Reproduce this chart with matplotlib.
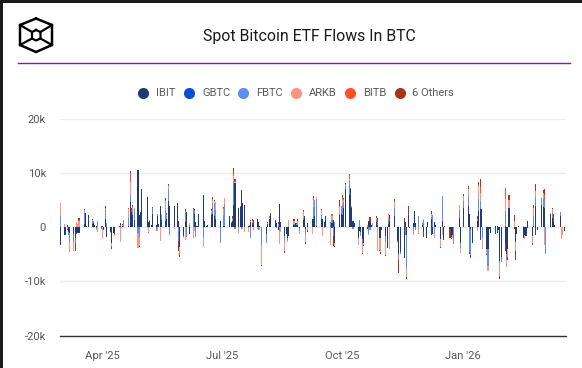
import matplotlib
matplotlib.use("Agg")
import matplotlib.pyplot as plt
import numpy as np
import pandas as pd

plt.rcParams["font.family"] = ["Roboto", "DejaVu Sans"]

# ---------------- DATA (thousand BTC, one row per week) ---------------- #
dates = pd.bdate_range("2025-02-28", "2026-03-19")

ibit = [-3.2,
    -1.4,-1.4,.4,-.9,-1.0, -1.3,-2.0,-1.0,-.9,-1.1, 0,.6,2.6,.3,2.2, .6,.8,.5,.3,0, .2,.3,-.5,1.6,-1.7,
    -.8,-3,-1,-1.3,0, .2,.3,.3,0,0, .3,4.6,2.8,2.3,1.4, 10.5,2.2,2.8,7,0, 5.5,1,1.2,.5,2.5,
    .4,2,.6,3.8,1.3, 1.2,1.5,4.9,4,0, 4,0,4.5,1.2,-3.6, -1.7,1,2.8,0,-1.2, 0,2.5,.9,.3,2.5,
    0,5.9,1.2,.3,.5, 2.3,2.5,2,1.5,0, 1.1,0,.3,.3,0, 2.1,.8,1.1,4.1,8.1, 3.5,3.8,6.7,4.4,4.1,
    .3,.2,1,.8,.4, 1.3,1,.3,0,0, -1.3,.6,1.5,2.2,0, 1.4,.7,-.5,4.3,.9, -1.7,-1.3,-1.9,-1.7,0,
    .4,.7,.5,.4,-.1, 1.4,2,-.3,.7,0, 1.5,1.5,2,.3,0, 1.5,1.5,1,2,0, .1,.7,1.3,-3,0,
    2.2,2.4,2.3,3.5,7.1, 5.9,7.1,3.5,1.2,.8, -2,-.7,-.9,-2.1,-3, -.3,1.1,.9,.5,0, .9,.5,-2,-2,-.5,
    -1.7,-3.9,.6,1.1,0, 2,0,-2.6,-5,-4.5, -5.7,1,-1.4,2.2,-.2, .7,3,.8,0,0, .4,-.8,0,-2,.9,
    1.6,-1.3,1,.5,0, -2.1,1.2,-2.2,.3,0, -.3,-1.8,-1.5,0,0, 1.7,-3,0,3.5,0, 4,2.4,-.4,-3,0,
    1.1,3,3.3,3.3,0, -4,-4.1,-.3,-1.1,0, .2,.2,-.5,-6.3,-5.5, -3,-5,-4,3.5,0, -.3,-2.8,-1.2,.3,0,
    -2,-1.5,-1.7,1.2,0, -1.7,.3,4,0,-.5, 4.2,3.7,3.5,0,0, 2.5,1.7,.9,.5,0, 2,0,0,-.7]

gbtc = [0,
    0,0,0,0,0, 0,0,0,0,0, 0,0,0,0,0, 0,0,0,0,0, 0,0,0,0,0,
    0,0,0,0,0, 0,0,0,0,0, 0,0,0,0,0, 0,0,0,0,0, 0,0,0,0,0,
    0,0,0,0,0, 0,0,0,0,0, 0,0,0,0,0, 0,0,0,0,0, 0,0,0,0,0,
    0,0,0,0,0, 0,0,0,0,0, 0,0,0,0,0, 0,0,0,0,0, 0,0,0,0,0,
    0,0,0,0,0, 0,0,0,0,0, 0,0,0,0,0, 0,0,0,0,0, 0,0,0,0,0,
    0,0,0,0,0, 0,0,0,0,0, 0,0,0,0,0, 0,0,0,0,0, 0,0,0,0,0,
    0,0,0,0,0, 0,0,0,0,0, 0,0,0,0,0, 0,0,0,0,0, 0,0,0,0,0,
    0,0,0,0,0, 0,0,0,0,0, 0,0,0,0,0, 0,0,0,0,0, 0,0,0,0,0,
    -1.5,0,0,0,0, 0,0,0,0,0, 0,0,0,0,0, 0,0,0,0,0, 0,0,0,0,0,
    0,0,-2.4,0,0, 0,0,0,0,0, -1.3,-1,0,0,0, 0,0,0,0,0, 0,0,0,0,0,
    0,0,0,-.2,0, 0,0,-1.5,0,0, 0,0,0,0,0, 0,0,0,0,0, 0,0,0,0]

fbtc = [2.1,
    0,0,0,-.5,-1.7, -1.6,0,0,0,0, 0,2,0,0,0, .5,.3,0,-.4,1.2, -.4,0,0,1.5,.8,
    0,0,0,0,0, 0,0,0,1.3,0, 1.5,1.4,0,.8,1.9, -1,-1.8,0,0,0, 0,0,0,0,1,
    -.7,.4,0,0,1.0, 1.9,.5,2.2,-1.5,0, 0,0,0,-2.5,0, 0,1.8,-1.8,0,.5, 3.2,.5,-1.8,0,0,
    0,-2,0,0,0, .3,2,2.5,1.6,0, -2.9,0,1.9,4,0, 0,.2,0,4.4,-.3, 0,0,-.4,0,0,
    0,0,-1.9,0,0, 0,-.5,0,-3.4,0, -1.6,0,0,0,0, 0,-.2,.4,-.7,0, -.7,0,-.4,0,0,
    .2,0,0,.2,-.6, .4,0,-1,0,0, 0,2.2,3,5,0, .7,0,-.2,0,0, .8,.7,-1.7,.9,0,
    .3,1,1.9,1.2,.5, 2.8,0,.3,-.3,0, 0,1.3,-.7,-1,0, 0,-1.2,-.5,0,0, .4,.5,0,0,0,
    -1,0,.7,.3,0, 1.6,0,0,-.7,-.5, 0,-1.4,-6.3,0,0, -.7,0,-.5,0,2, .4,1.2,0,0,0,
    .3,2.3,-1.2,0,0, 0,4.6,0,0,0, 0,0,0,-3.1,0, 1.5,-.9,0,1.3,0, 1.7,-4.6,-4.5,0,0,
    .4,2.3,1.6,0,-2, 0,-3,0,0,0, 0,0,0,-.3,-1, 3,-1,0,0,0, 0,0,0,0,0,
    0,0,0,0,0, 0,1.8,1.5,0,0, 1.2,1.6,1.5,-5,0, 0,.9,0,0,0, .8,0,0,0]

arkb = [2.4,
    .6,0,-.3,0,-1.7, -1.5,0,.9,.6,1.1, 0,.5,0,0,0, .3,-.2,0,-.1,-.9, 0,-2.1,0,.3,0,
    -.3,-.4,0,-.3,.1, 0,-2.7,.2,0,0, 1.5,2.3,0,.5,.2, -2.9,-1.6,0,0,0, -.2,-.9,.2,0,.1,
    0,-.7,0,-2.5,.2, 1.8,.3,.5,0,0, -.3,0,0,0,-1.2, -.3,-2.3,0,0,.3, -2,-.7,0,0,0,
    0,-1.6,0,0,0, .4,.5,.4,1.5,0, 0,0,1.1,1.1,0, 0,0,.4,1,.3, -1.1,0,0,-.3,-.9,
    -.9,.2,.2,.4,-.6, -.4,0,-.5,-3.5,0, 0,.1,.3,0,0, 0,0,.2,-2.4,-.9, -2,0,-.4,1.3,0,
    .6,0,.1,.5,-.6, 1,0,-1.5,-.5,0, -1.2,1.4,0,.3,0, 1,-1.7,0,0,0, -3.2,.6,0,-.5,0,
    1.3,.4,1,.4,.2, .2,0,.1,0,0, -1.2,.1,0,-1.7,-.3, .5,-.2,0,0,.7, .4,-4.3,-2.2,-2.6,0,
    -2.4,0,.9,-4,0, 1.1,0,-.3,0,0, 0,0,-1.5,0,0, -.8,0,0,0,-1.2, 0,.3,0,0,0,
    .5,0,-.8,0,0, -1.5,-1.4,0,0,0, 0,-.2,-.4,0,0, .9,-.9,0,1,0, 1.3,0,-.3,0,0,
    -.7,2.5,1.4,0,-2, -1,-.9,0,0,0, 0,0,0,-2.4,0, 2.2,-1.3,-1.5,1.6,0, 1.2,-1.5,0,0,0,
    .3,-.6,0,0,0, -1.2,1.5,1.2,0,0, 0,1,-3.2,0,0, .2,.7,0,0,0, 0,-2.1,-1.4,0]

bitb = [0,
    0,0,0,0,-.1, 0,-1.0,0,0,.2, 0,0,0,0,0, 0,0,0,0,0, 0,0,0,.2,0,
    0,-.2,0,0,0, 0,.2,0,0,0, .2,1.7,.4,.3,.1, 0,0,0,0,0, 0,-.1,0,0,0,
    0,0,0,0,0, .2,.2,.2,0,0, 0,0,0,0,-.4, 0,.2,0,0,0, .2,.2,0,0,0,
    0,0,0,0,0, .2,.3,0,0,0, 0,0,.2,0,0, 0,0,.2,.6,.2, 0,.1,0,0,0,
    0,0,0,.1,0, 0,0,0,0,0, 0,0,.3,0,0, 0,0,0,0,0, 0,0,0,0,0,
    0,0,0,0,0, .2,0,0,0,0, 0,.3,0,0,0, 0,0,0,0,0, 0,.5,0,0,0,
    .2,.1,.4,.2,.2, .7,.1,0,0,0, -.1,0,0,0,0, 0,0,0,0,0, 0,0,0,0,0,
    0,0,.2,0,0, .2,0,0,-.4,0, 0,0,0,0,0, 0,0,0,0,0, 0,0,0,0,0,
    0,0,0,0,0, 0,0,0,0,0, 0,0,0,0,0, 0,0,0,0,0, 0,0,0,0,0,
    0,0,1.2,0,0, 0,0,0,0,0, 0,0,0,0,0, 2,0,0,0,0, 0,0,0,0,0,
    0,0,0,0,0, 0,0,0,0,0, 0,0,1,0,0, 0,0,0,0,0, 0,0,0,0]

others = [0,
    0,0,-.2,0,-.1, 0,-1.4,-.2,-.2,.5, 0,.3,0,0,0, .1,0,0,0,0, 0,0,.1,.3,-.1,
    0,-.4,0,-.1,0, 0,.3,.1,0,0, .1,.4,.3,.2,0, 0,-.2,0,0,0, 0,-.1,0,0,.1,
    0,.1,0,.2,0, .3,.2,.2,0,0, 0,0,0,-1.8,-.3, 0,.4,0,0,0, .1,.2,0,0,0,
    0,0,0,0,0, .2,.2,.1,0,0, -.1,0,.3,0,0, 0,0,.4,.8,.3, 0,.1,.2,0,0,
    0,0,.2,.2,1, .2,0,0,-.2,0, 0,.3,0,.4,0, 0,0,.3,0,0, -.3,0,0,.1,0,
    .3,0,.1,.5,0, .1,.1,-.3,-.3,0, 0,.3,0,0,0, .1,.1,0,0,0, 0,-.1,-1.7,-.2,0,
    1,.1,.3,.1,.1, .2,.1,0,0,0, 0,0,0,-.1,-.1, 0,0,1,0,0, .3,.8,-.2,-.3,0,
    -.3,0,.1,.9,0, .3,0,-.1,-2.4,0, 1.7,0,-.4,1.8,0, 0,0,0,0,0, 0,-1,0,0,0,
    .6,0,0,0,0, -.3,0,-.1,0,0, -1.6,-.1,-.1,0,0, 0,0,0,.3,0, .7,-.3,-.4,0,0,
    .5,.5,1.4,0,0, -.2,0,0,0,0, 0,0,0,-.6,0, -1.3,0,-.5,.9,0, 1.1,-1.7,0,0,0,
    0,0,0,0,0, -.3,.5,1.3,0,0, 0,.5,1,0,0, 0,.2,1.6,0,0, 0,0,.1,0]

labels = ["IBIT", "GBTC", "FBTC", "ARKB", "BITB", "6 Others"]
colors = ["#1f3a75", "#0b4fd0", "#5b8ff0", "#ff9580", "#ff5029", "#a8351a"]
series = [ibit, gbtc, fbtc, arkb, bitb, others]
y_ticks = [-20, -10, 0, 10, 20]
y_labels = ["-20k", "-10k", "0", "10k", "20k"]
x_ticks = ["2025-04-01", "2025-07-01", "2025-10-01", "2026-01-01"]
x_labels = ["Apr '25", "Jul '25", "Oct '25", "Jan '26"]

W, H = 582, 368
fig = plt.figure(figsize=(W / 100, H / 100), dpi=100, facecolor="white")

# ---------------- STACKED BARS ---------------- #
ax = fig.add_axes([60 / W, 1 - 335.5 / H, 506 / W, 216.5 / H])
pos = np.zeros(len(dates))
neg = np.zeros(len(dates))
for vals, color in zip(series, colors):
    vals = np.array(vals, dtype=float)
    base = np.where(vals >= 0, pos, neg)
    ax.bar(dates, vals, bottom=base, width=0.8, color=color, linewidth=0, zorder=3)
    pos += np.where(vals > 0, vals, 0)
    neg += np.where(vals < 0, vals, 0)

ax.set_xlim(pd.Timestamp("2025-02-27 12:00"), pd.Timestamp("2026-03-20 12:00"))
ax.set_ylim(-20, 20)
ax.set_yticks(y_ticks, y_labels)
ax.set_xticks(pd.to_datetime(x_ticks), x_labels)
ax.tick_params(length=0, labelsize=8.1, labelcolor="#5a5a5a")
ax.tick_params(axis="y", pad=10)
ax.tick_params(axis="x", pad=11)
ax.grid(axis="y", color="#ececec", linewidth=1, zorder=0)
for s in ["top", "left", "right"]:
    ax.spines[s].set_visible(False)
ax.spines["bottom"].set_color("#333333")
ax.spines["bottom"].set_linewidth(1)

# ---------------- HEADER, LEGEND, LOGO (pixel coordinates) ---------------- #
top = fig.add_axes([0, 0, 1, 1], facecolor="none")
top.set_xlim(0, W)
top.set_ylim(H, 0)
top.axis("off")

top.fill_between([0, W], 0, 3, color="#1a1a1a", linewidth=0)
top.fill_between([0, 3], 0, H, color="#1a1a1a", linewidth=0)

top.text(309, 37, "Spot Bitcoin ETF Flows In BTC", fontsize=11.4, color="#1a1a1a", ha="center", va="center")
top.plot([18, 570], [63, 63], color="#8a10c8", linewidth=1.0)

leg_dots = [143, 189, 243, 295.5, 350, 400]
leg_text = [156, 202, 256, 309, 363, 412]
for dx, tx, lab, c in zip(leg_dots, leg_text, labels, colors):
    top.plot(dx, 92.5, "o", color=c, markersize=8, markeredgewidth=0)
    top.text(tx, 93, lab, fontsize=8, color="#5a5a5a", va="center")

hex_x = [36, 52, 52, 36, 20, 20, 36]
hex_y = [18.5, 25, 45, 52, 45, 25, 18.5]
top.plot(hex_x, hex_y, color="black", linewidth=1.8, solid_joinstyle="miter")
in_x = [36, 40.5, 40.5, 36, 32, 32, 36]
in_y = [30, 32, 38.5, 40.5, 38.5, 32, 30]
top.plot(in_x, in_y, color="black", linewidth=1.6)
for i in [1, 2, 4, 5]:
    top.plot([hex_x[i], in_x[i]], [hex_y[i], in_y[i]], color="black", linewidth=1.6)

fig.savefig("out.png", dpi=100)
